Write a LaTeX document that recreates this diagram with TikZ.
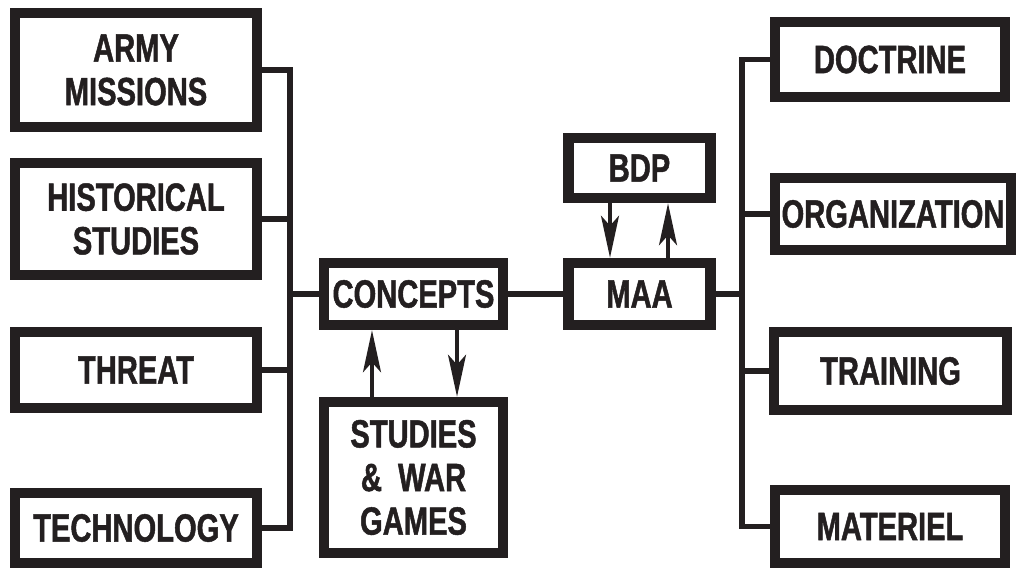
\documentclass[tikz,border=0pt]{standalone}
\usepackage{fontspec}
\usepackage{xcolor}
\usepackage{tikz}
\usetikzlibrary{positioning, arrows.meta, calc}
\newfontfamily\boxfont{Liberation Sans}[FakeStretch=0.74, FakeBold=1.2]
\definecolor{ink}{RGB}{35,31,32}

\begin{document}
\begin{tikzpicture}[
  x=0.025cm, y=-0.025cm,
  font=\boxfont\bfseries\fontsize{28pt}{31pt}\selectfont,
  blk/.style={draw=ink, fill=white, line width=7.5pt, inner sep=0pt,
              align=center, text=ink},
  bus/.style={draw=ink, line width=4pt},
  flow/.style={draw=ink, line width=2.5pt,
               -{Stealth[length=1.05cm, width=0.45cm, inset=0.25cm]}}
]
\useasboundingbox (0,0) rectangle (1016,569);
% inputs on the left
\node[blk, minimum width=6.05cm, minimum height=2.85cm] (army)   at (136,70)  {ARMY\\MISSIONS};
\node[blk, minimum width=6.05cm, minimum height=2.8cm]  (hist)   at (136,219) {HISTORICAL\\STUDIES};
\node[blk, minimum width=6.05cm, minimum height=1.9cm]  (threat) at (136,370) {THREAT};
\node[blk, minimum width=6.05cm, minimum height=1.75cm] (tech)   at (136,528) {TECHNOLOGY};
% centre
\node[blk, minimum width=4.475cm, minimum height=1.55cm]  (concepts) at (413.5,294)   {CONCEPTS};
\node[blk, minimum width=4.475cm, minimum height=3.775cm] (studies)  at (413.5,477.5) {STUDIES\\\&~ WAR\\GAMES};
\node[blk, minimum width=3.55cm, minimum height=1.55cm]   (maa)      at (639.5,294)   {MAA};
\node[blk, minimum width=3.55cm, minimum height=1.5cm]    (bdp)      at (639.5,168)   {BDP};
% outputs on the right
\node[blk, minimum width=5.75cm, minimum height=1.875cm] (doctrine) at (890,59.5)  {DOCTRINE};
\node[blk, minimum width=5.9cm,  minimum height=1.8cm]   (org)      at (893,214)   {ORGANIZATION};
\node[blk, minimum width=5.825cm, minimum height=1.95cm] (training) at (890.5,371) {TRAINING};
\node[blk, minimum width=5.75cm, minimum height=1.825cm] (materiel) at (890,526.5) {MATERIEL};

\coordinate (lb) at (290,0);
\coordinate (rb) at (742,0);

% left bus
\draw[bus] (army.east) -- (army.east -| lb) -- (tech.east -| lb) -- (tech.east);
\foreach \n in {hist, threat}
  \draw[bus] (\n.east) -- (\n.east -| lb);
\draw[bus] (concepts.west -| lb) -- (concepts.west);
% right bus
\draw[bus] (doctrine.west) -- (doctrine.west -| rb) -- (materiel.west -| rb) -- (materiel.west);
\foreach \n in {org, training}
  \draw[bus] (\n.west -| rb) -- (\n.west);
\draw[bus] (maa.east) -- (maa.east -| rb);
\draw[bus] (concepts) -- (maa);

% feedback arrows
\draw[flow] ([xshift=-1.0375cm]studies.north) -- ([xshift=-1.0375cm]concepts.south);
\draw[flow] ([xshift=1.0875cm]concepts.south) -- ([xshift=1.0875cm]studies.north);
\draw[flow] ([xshift=-0.7375cm]bdp.south) -- ([xshift=-0.7375cm]maa.north);
\draw[flow] ([xshift=0.7125cm]maa.north) -- ([xshift=0.7125cm]bdp.south);
\end{tikzpicture}
\end{document}
